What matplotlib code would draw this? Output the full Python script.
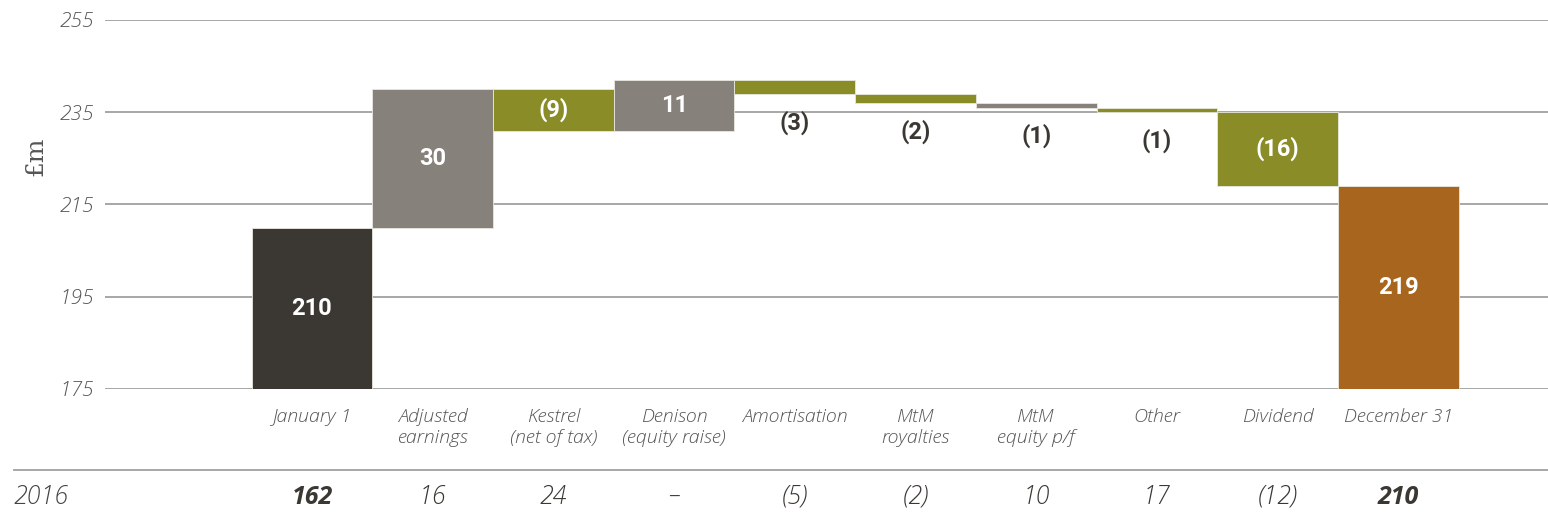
import numpy as np
import matplotlib.pyplot as plt
from matplotlib.lines import Line2D
from matplotlib.transforms import blended_transform_factory

categories = ["January 1", "Adjusted\nearnings", "Kestrel\n(net of tax)", "Denison\n(equity raise)",
              "Amortisation", "MtM\nroyalties", "MtM\nequity p/f", "Other", "Dividend", "December 31"]
changes = [210, 30, -9, 11, -3, -2, -1, -1, -16, 219]
bar_labels = ["210", "30", "(9)", "11", "(3)", "(2)", "(1)", "(1)", "(16)", "219"]
colors = ["#3b3833", "#87817c", "#8a8c27", "#87817c", "#8a8c27", "#8a8c27",
          "#87817c", "#8a8c27", "#8a8c27", "#a8651e"]
prior_year = "2016"
prior_values = ["162", "16", "24", "–", "(5)", "(2)", "10", "17", "(12)", "210"]
prior_bold = [True, False, False, False, False, False, False, False, False, True]

# waterfall bases
bottoms = []
tops = []
running = 0
for i, c in enumerate(changes):
    if i == 0 or i == len(changes) - 1:
        lo, hi = 175, c
        running = c
    else:
        lo, hi = sorted([running, running + c])
        running += c
    bottoms.append(lo)
    tops.append(hi)

bottoms = np.array(bottoms, dtype=float)
tops = np.array(tops, dtype=float)
x = np.arange(len(categories))

fig = plt.figure(figsize=(15.48, 5.22), dpi=100)
ax = fig.add_axes([0.0678, 0.2548, 0.9322, 0.7069])

ax.bar(x, tops - bottoms, bottom=bottoms, width=1.0, color=colors,
       edgecolor="#e8e8e0", linewidth=0.6, zorder=3)

lab_font = ["Liberation Sans Narrow", "Roboto", "DejaVu Sans"]
for i in x:
    h = tops[i] - bottoms[i]
    if h >= 5:
        ax.text(i, (tops[i] + bottoms[i]) / 2, bar_labels[i], ha="center", va="center",
                color="white", fontsize=17, fontweight="bold", family=lab_font, zorder=4)
    else:
        ax.text(i, bottoms[i] - 6.2, bar_labels[i], ha="center", va="center",
                color="#3b3833", fontsize=17, fontweight="bold", family=lab_font, zorder=4)

txt_font = ["Open Sans", "DejaVu Sans"]

ax.set_ylim(175, 255)
ax.set_xlim(-1.715, 10.24)
ax.set_yticks([175, 195, 215, 235, 255])
ax.yaxis.grid(True, color="#a0a0a0", linewidth=1.3, zorder=0)
ax.set_axisbelow(True)
for s in ax.spines.values():
    s.set_visible(False)
ax.tick_params(axis="y", length=0, pad=8, labelsize=15, labelcolor="#555555")
for t in ax.get_yticklabels():
    t.set_fontstyle("italic")
    t.set_family(txt_font)
    t.set_fontweight("light")
ax.set_xticks(x)
ax.set_xticklabels(categories, fontsize=14, fontstyle="italic", family=txt_font,
                   fontweight="light", color="#555555", linespacing=1.2, va="top")
ax.tick_params(axis="x", length=0, pad=14)

fig.text(0.023, 0.70, "£m", rotation=90, ha="center", va="center",
         fontsize=18, family="DejaVu Serif", color="#555555")

# comparison row
fig.add_artist(Line2D([14 / 1548, 1.0], [1 - 470 / 522] * 2, color="#a0a0a0", linewidth=1.3))
fig.text(14 / 1548, 1 - 497 / 522, prior_year, ha="left", va="center",
         fontsize=18, fontstyle="italic", family=txt_font, fontweight="light", color="#444444")
trans = blended_transform_factory(ax.transData, fig.transFigure)
for i in x:
    ax.text(i, 1 - 497 / 522, prior_values[i], transform=trans, ha="center", va="center",
            fontsize=18, fontstyle="italic", family=txt_font,
            fontweight="bold" if prior_bold[i] else "light", color="#3b3833", clip_on=False)

fig.savefig("out.png", dpi=100)
